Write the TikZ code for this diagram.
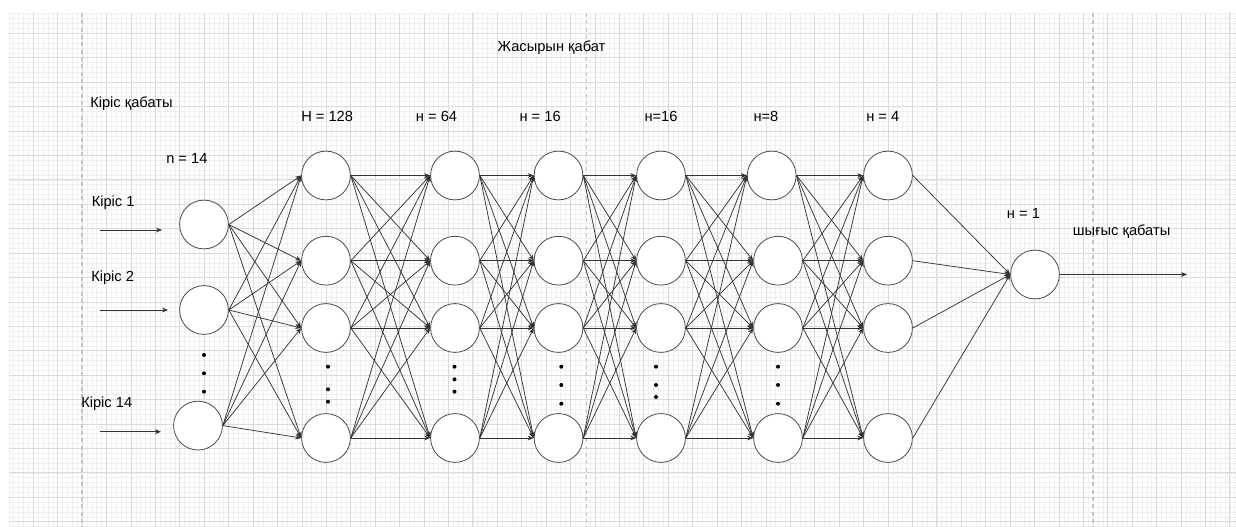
\documentclass[tikz,border=0pt]{standalone}
\usepackage{fontspec}
\setmainfont{Liberation Sans}
\usetikzlibrary{arrows.meta}
\definecolor{minorc}{HTML}{F0F0F0}
\definecolor{majorc}{HTML}{DADADA}
\definecolor{dashc}{HTML}{C4C4C4}
\begin{document}
\begin{tikzpicture}[x=0.75pt,y=-0.75pt,
  neuron/.style={circle,draw=black!70,line width=0.6pt,fill=white,minimum size=36.6pt,inner sep=0pt},
  conn/.style={draw=black!80,line width=0.55pt,-{Stealth[length=4.5pt,width=3.6pt]}},
  lbl/.style={anchor=base west,inner sep=0pt,font=\fontsize{11}{13}\selectfont},
  dotc/.style={circle,fill=black,inner sep=0pt,minimum size=3pt},
  minorline/.style={draw=minorc,line width=0.5pt},
  majorline/.style={draw=majorc,line width=0.6pt},
  sepline/.style={draw=dashc,line width=1pt,dash pattern=on 3pt off 2.5pt}]
\useasboundingbox (0,0) rectangle (1236,527);
\fill[white] (0,0) rectangle (1236,527);
% grid
\foreach \i in {0,...,251} \draw[minorline] ({8.88+4.884*\i},13) -- ({8.88+4.884*\i},527);
\foreach \i in {0,...,105} \draw[minorline] (8.88,{13.8+4.884*\i}) -- (1236,{13.8+4.884*\i});
\foreach \i in {1,...,50} \draw[majorline] ({8.88+24.42*\i},13) -- ({8.88+24.42*\i},527);
\foreach \i in {0,...,20} \draw[majorline] (8.88,{33.3+24.42*\i}) -- (1236,{33.3+24.42*\i});
% separators
\foreach \x in {82,586.7,1093} \draw[sepline] (\x,13) -- (\x,527);
% nodes
\node[neuron] (in1) at (204,224.5) {};
\node[neuron] (in2) at (204,310) {};
\node[neuron] (in3) at (198,425.6) {};
\foreach \c/\x in {1/326,2/455,3/558.5,4/661,5/771.7,6/888}
  \node[neuron] (h\c1) at (\x,175.5) {};
\foreach \c/\x in {1/326,2/455,3/558.5,4/661,5/778,6/888}{
  \foreach \r/\y in {2/260.7,3/328,4/438}
    \node[neuron] (h\c\r) at (\x,\y) {};
}
\node[neuron] (out) at (1035,274.5) {};
% connections
\foreach \a in {1,2,3}{
  \foreach \b in {1,...,4} \draw[conn] (in\a.east) -- (h1\b.west);
}
\foreach \c in {1,...,5}{
  \pgfmathtruncatemacro\nxt{\c+1}
  \foreach \a in {1,...,4}{
    \foreach \b in {1,...,4} \draw[conn] (h\c\a.east) -- (h\nxt\b.west);
  }
}
\foreach \a in {1,...,4} \draw[conn] (h6\a.east) -- (out.west);
% input / output arrows
\coordinate (s1) at (100,230);   \coordinate (e1) at (162,230);
\coordinate (s2) at (100,310);   \coordinate (e2) at (168,310);
\coordinate (s3) at (100,431.7); \coordinate (e3) at (161,431.7);
\coordinate (oe) at (1187,274.5);
\draw[conn] (s1) -- (e1);
\draw[conn] (s2) -- (e2);
\draw[conn] (s3) -- (e3);
\draw[conn] (out.east) -- (oe);
% dots
\foreach \x/\ya/\yb/\yc in {204/355/373.3/391.7, 328/366.7/389.3/401.7, 454.5/366.7/379.3/391.7, 561.3/366.7/385/403.7, 656/366.7/385/397, 778/366.7/385/403.7}{
  \node[dotc] at (\x,\ya) {};
  \node[dotc] at (\x,\yb) {};
  \node[dotc] at (\x,\yc) {};
}
% labels
\node[lbl] (t0) at (90,108) {Кіріс қабаты};
\node[lbl] (t1) at (166,164) {n = 14};
\node[lbl] (t2) at (91.5,206.7) {Кіріс 1};
\node[lbl] (t3) at (91,281.7) {Кіріс 2};
\node[lbl] (t4) at (81,407.7) {Кіріс 14};
\node[lbl] (t5) at (301,121.7) {Н = 128};
\node[lbl] (t6) at (415.7,121.7) {н = 64};
\node[lbl] (t7) at (519.3,121.7) {н = 16};
\node[lbl] (t8) at (644.3,121.7) {н=16};
\node[lbl] (t9) at (753.3,121.7) {н=8};
\node[lbl] (t10) at (866,121.7) {н = 4};
\node[lbl] (t11) at (1006.7,218.3) {н = 1};
\node[lbl] (t12) at (1072.7,236) {шығыс қабаты};
\node[lbl] (t13) at (497.3,51.7) {Жасырын қабат};
\end{tikzpicture}
\end{document}
